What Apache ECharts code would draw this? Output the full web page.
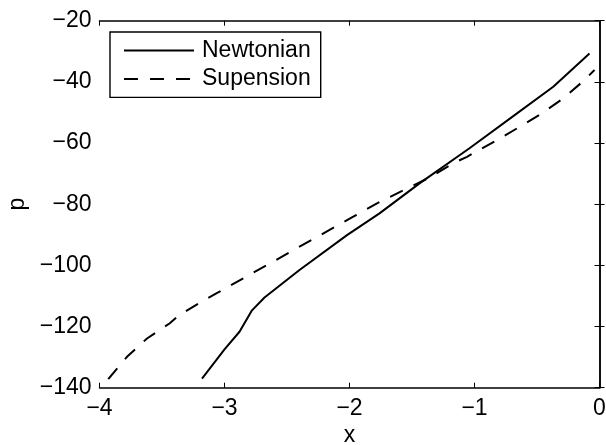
<!DOCTYPE html>
<html>
<head>
<meta charset="utf-8">
<script src="https://cdn.jsdelivr.net/npm/echarts@6/dist/echarts.min.js"></script>
<style>
html,body{margin:0;padding:0;background:#fff;}
#chart{width:606px;height:445px;}
</style>
</head>
<body>
<div id="chart"></div>
<script>
var newtonianX = [-3.18, -3.0, -2.88, -2.78, -2.68, -2.40, -2.02, -1.76, -1.44, -1.04, -0.66, -0.37, -0.08];
var newtonianY = [-137, -127.5, -121.7, -114.7, -110.5, -101.5, -90.1, -83, -73.2, -61.7, -50.3, -41.6, -30.7];
var supensionX = [-3.93, -3.78, -3.62, -3.44, -3.36, -3.16, -3.04, -2.66, -2.40, -1.97, -1.78, -1.37, -1.17, -1.06, -0.77, -0.48, -0.29, -0.12, -0.04];
var supensionY = [-137.2, -129.9, -123.9, -119, -116.2, -111.3, -108.6, -99.9, -93.9, -84.1, -79.7, -71.5, -66.6, -64.5, -57.9, -50.8, -45.4, -39.4, -36.1];
var seriesNames = ['Newtonian', 'Supension'];
var xTicks = {min: -4, max: 0, interval: 1};
var yTicks = {min: -140, max: -20, interval: 20};

function zip(a, b) { return a.map(function (v, i) { return [v, b[i]]; }); }
function fmt(v) { return String(v).replace('-', '\u2212'); }

var font = 'Liberation Sans, Arial, Helvetica, sans-serif';
var fs = 23;
var axisLine = {show: true, lineStyle: {color: '#000', width: 1.5}};
var tick = {show: true, inside: true, length: 5, lineStyle: {color: '#000', width: 1}};

var chart = echarts.init(document.getElementById('chart'), null, {renderer: 'canvas'});
chart.setOption({
  animation: false,
  backgroundColor: '#fff',
  grid: {left: 99.5, right: 6.5, top: 20.7, bottom: 57.3, containLabel: false, outerBoundsMode: 'none'},
  legend: {
    orient: 'vertical', left: 110, top: 32,
    data: seriesNames,
    itemWidth: 70, itemHeight: 14, itemGap: 2.6,
    padding: [5.4, 10, 5.4, 13],
    borderColor: '#000', borderWidth: 1.4,
    backgroundColor: '#fff',
    itemStyle: {opacity: 0},
    textStyle: {fontFamily: font, fontSize: fs, lineHeight: 26, color: '#000', padding: [0, 0, 0, 3]}
  },
  xAxis: [{
    type: 'value', min: xTicks.min, max: xTicks.max, interval: xTicks.interval,
    position: 'bottom',
    name: 'x', nameLocation: 'middle', nameGap: 33,
    nameTextStyle: {fontFamily: font, fontSize: fs, color: '#000'},
    axisLine: axisLine, axisTick: tick, splitLine: {show: false},
    axisLabel: {fontFamily: font, fontSize: fs, color: '#000', margin: 9, formatter: fmt}
  }, {
    type: 'value', min: xTicks.min, max: xTicks.max, interval: xTicks.interval,
    position: 'top',
    axisLine: axisLine, axisTick: tick, splitLine: {show: false}, axisLabel: {show: false}
  }],
  yAxis: [{
    type: 'value', min: yTicks.min, max: yTicks.max, interval: yTicks.interval,
    position: 'left',
    name: 'p', nameLocation: 'middle', nameGap: 70,
    nameTextStyle: {fontFamily: font, fontSize: fs, color: '#000'},
    axisLine: axisLine, axisTick: tick, splitLine: {show: false},
    axisLabel: {fontFamily: font, fontSize: fs, color: '#000', margin: 8, formatter: fmt}
  }, {
    type: 'value', min: yTicks.min, max: yTicks.max, interval: yTicks.interval,
    position: 'right',
    axisLine: axisLine, axisTick: tick, splitLine: {show: false}, axisLabel: {show: false}
  }],
  series: [{
    name: seriesNames[0], type: 'line', data: zip(newtonianX, newtonianY),
    symbol: 'none', smooth: false,
    lineStyle: {color: '#000', width: 2, type: 'solid'},
    itemStyle: {color: '#000'}
  }, {
    name: seriesNames[1], type: 'line', data: zip(supensionX, supensionY),
    symbol: 'none', smooth: false,
    lineStyle: {color: '#000', width: 2, type: [14, 12]},
    itemStyle: {color: '#000'}
  }]
});
</script>
</body>
</html>
